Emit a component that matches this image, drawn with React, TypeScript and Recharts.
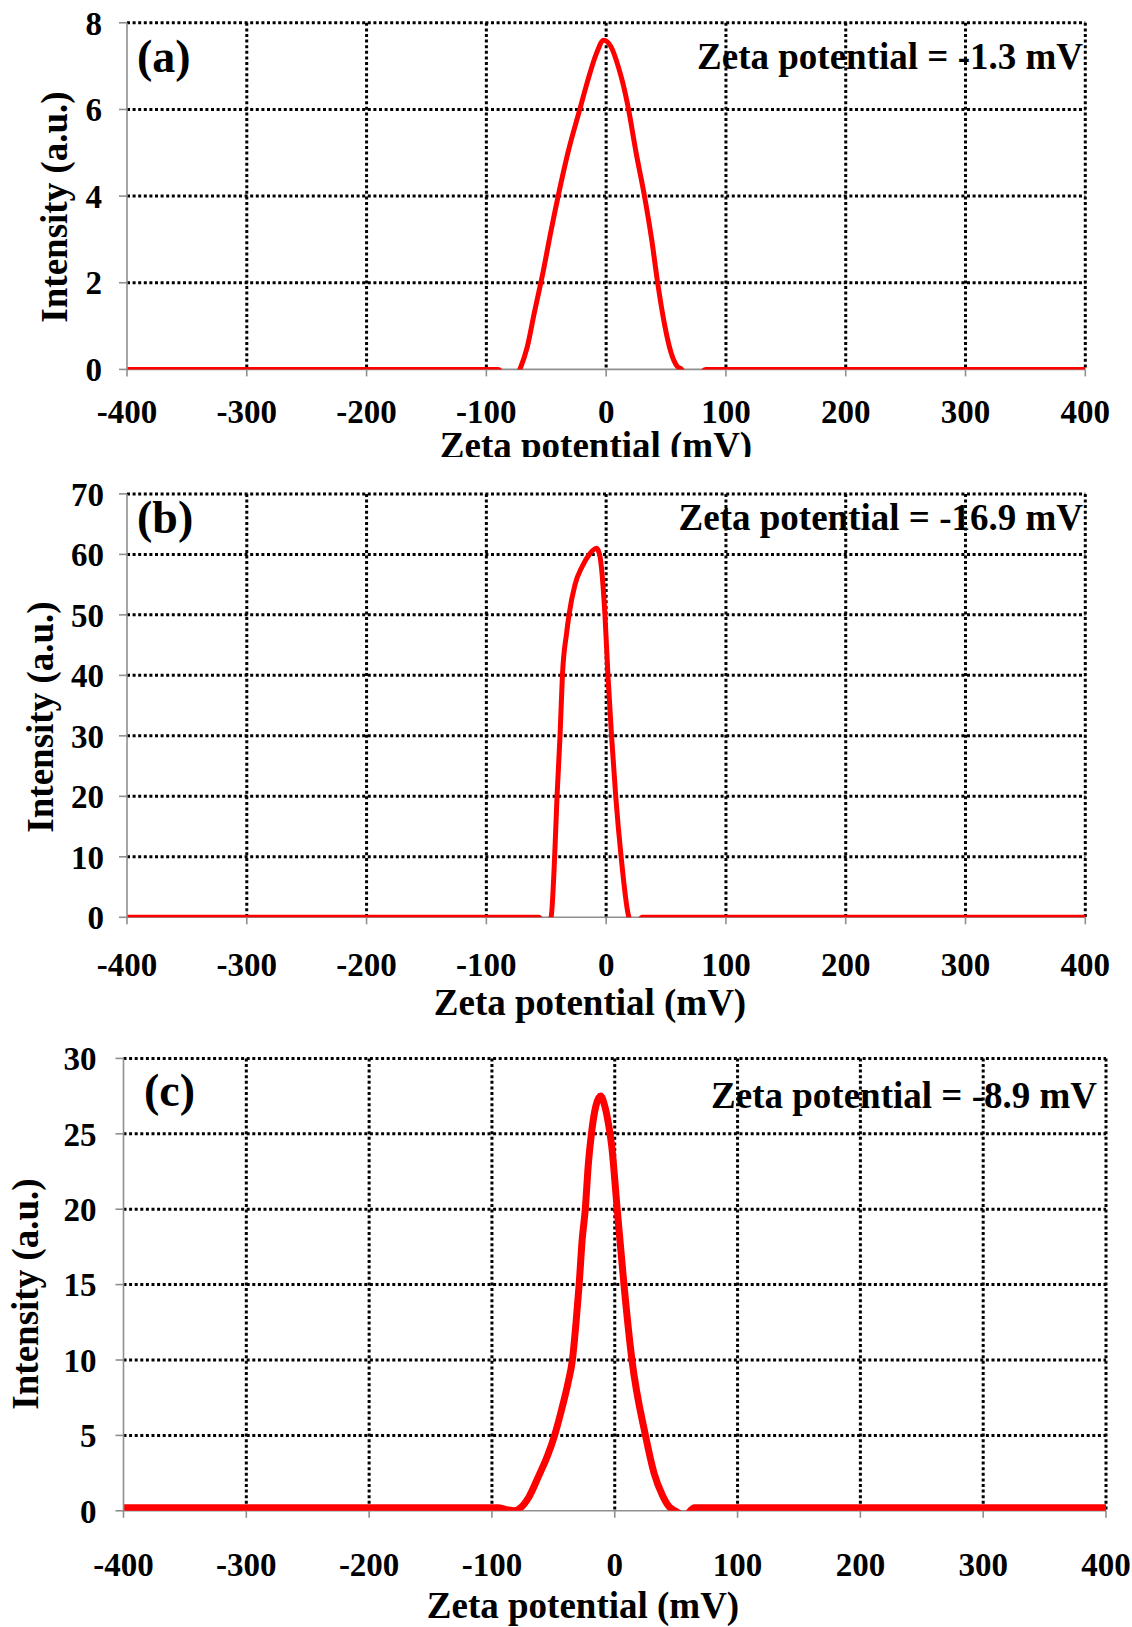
import { LineChart, Line, XAxis, YAxis, CartesianGrid } from "recharts";
import type { ReactNode } from "react";

// shared zeta-potential axis (mV)
const zetaTicks = [-400, -300, -200, -100, 0, 100, 200, 300, 400];

// (a) zeta potential distribution, mean -1.3 mV
const potentialA = [-400, -300, -200, -100, -90, -80, -72, -66, -60, -53, -46, -31, -22, -15, -8, -2, 4, 10, 14, 18, 25, 32, 38, 43, 49, 54, 59, 63, 72, 83, 100, 200, 300, 400];
const intensityA = [0, 0, 0, 0, 0, -0.4, 0, 0.5, 1.3, 2.2, 3.2, 5.1, 6, 6.7, 7.3, 7.6, 7.45, 7.0, 6.6, 6.1, 5, 4, 3, 2, 1, 0.4, 0.08, 0, -0.4, 0, 0, 0, 0, 0];
const yTicksA = [0, 2, 4, 6, 8];

// (b) mean -16.9 mV
const potentialB = [-400, -300, -200, -100, -56, -51, -46, -43, -41, -38.5, -36.5, -33, -31, -26, -20, -14, -8, -5.5, -1, 1.5, 4.5, 8, 12.5, 19, 24, 30, 100, 200, 300, 400];
const intensityB = [0, 0, 0, 0, 0, -1.5, 0, 10, 20, 30, 40, 47, 50, 55, 58, 60, 61, 60, 50, 40, 30, 20, 10, 0, -1.5, 0, 0, 0, 0, 0];
const yTicksB = [0, 10, 20, 30, 40, 50, 60, 70];

// (c) mean -8.9 mV
const potentialC = [-400, -300, -200, -100, -95, -88, -82, -76, -70, -62, -55, -49, -43, -38, -34.5, -31.5, -29, -26.5, -24, -21.5, -19, -15.5, -11.5, -8, -5, -2.5, 2, 7.5, 14, 25, 32, 39, 44, 49, 57, 65, 100, 200, 300, 400];
const intensityC = [0.2, 0.2, 0.2, 0.2, 0.2, 0.08, 0, 0.25, 0.9, 2.3, 3.6, 5, 6.8, 8.5, 10, 12.5, 15, 18, 20, 23, 25, 26.8, 27.5, 26.8, 25.6, 24.2, 20, 15, 10, 5, 2.5, 1, 0.3, 0, -0.3, 0.2, 0.2, 0.2, 0.2, 0.2];
const yTicksC = [0, 5, 10, 15, 20, 25, 30];

const FONT = '"Liberation Serif", "Times New Roman", Times, serif';
const AXIS_GRAY = "#8f8f8f";
const RED = "#ff0000";
const PAGE_W = 1132;
const PAGE_H = 1627;
const Y_AXIS_W = 70;
const X_AXIS_H = 60;

type Box = { left: number; right: number; top: number; bottom: number };
type Pt = [number, number];

interface PanelProps {
  tag: string;
  note: string;
  potential: number[];
  intensity: number[];
  yTicks: number[];
  top: number;
  height: number;
  plot: Box;
  lineWidth: number;
  xTickMargin: number;
  yTickMargin: number;
  tagAt: Pt;
  noteAt: Pt;
  yTitleAt: Pt;
  xTitleAt: Pt;
}

function Caption({
  at,
  size,
  anchor = "middle",
  rotate = false,
  children,
}: {
  at: Pt;
  size: number;
  anchor?: "start" | "middle" | "end";
  rotate?: boolean;
  children: ReactNode;
}) {
  const tx = anchor === "start" ? "0%" : anchor === "end" ? "-100%" : "-50%";
  return (
    <div
      style={{
        position: "absolute",
        left: at[0],
        top: at[1],
        fontSize: size,
        fontWeight: 700,
        lineHeight: 1,
        whiteSpace: "nowrap",
        color: "#000",
        transform: `translate(${tx}, -50%)${rotate ? " rotate(-90deg)" : ""}`,
      }}
    >
      {children}
    </div>
  );
}

function ZetaPanel(p: PanelProps) {
  const data = p.potential.map((x, i) => ({ potential: x, intensity: p.intensity[i] }));
  const yMax = p.yTicks[p.yTicks.length - 1];
  const local = (pt: Pt): Pt => [pt[0], pt[1] - p.top];

  const margin = {
    top: p.plot.top - p.top,
    left: p.plot.left - Y_AXIS_W,
    right: PAGE_W - p.plot.right,
    bottom: p.top + p.height - p.plot.bottom - X_AXIS_H,
  };
  const tickStyle = { fill: "#000", fontSize: 33, fontWeight: 700, fontFamily: FONT };

  return (
    <div
      style={{
        position: "absolute",
        left: 0,
        top: p.top,
        width: PAGE_W,
        height: p.height,
        overflow: "hidden",
      }}
    >
      <LineChart width={PAGE_W} height={p.height} data={data} margin={margin}>
        {/* dotted grid; the zero line and left edge belong to the axes */}
        <CartesianGrid
          stroke="#000"
          strokeWidth={3}
          strokeDasharray="3 2.6"
          horizontalValues={p.yTicks.filter((v) => v !== 0)}
          verticalValues={zetaTicks.filter((v) => v !== -400)}
        />
        <CartesianGrid stroke={AXIS_GRAY} strokeWidth={1.6} horizontalValues={[0]} vertical={false} />
        <XAxis
          dataKey="potential"
          type="number"
          domain={[-400, 400]}
          ticks={zetaTicks}
          interval={0}
          axisLine={false}
          tickLine={{ stroke: AXIS_GRAY, strokeWidth: 1.6 }}
          tickSize={7}
          tickMargin={p.xTickMargin}
          height={X_AXIS_H}
          tick={tickStyle}
        />
        <YAxis
          type="number"
          domain={[0, yMax]}
          ticks={p.yTicks}
          interval={0}
          allowDataOverflow
          axisLine={{ stroke: AXIS_GRAY, strokeWidth: 1.6 }}
          tickLine={{ stroke: AXIS_GRAY, strokeWidth: 1.6 }}
          tickSize={8}
          tickMargin={p.yTickMargin}
          width={Y_AXIS_W}
          tick={tickStyle}
        />
        <Line
          dataKey="intensity"
          type="monotone"
          stroke={RED}
          strokeWidth={p.lineWidth}
          dot={false}
          activeDot={false}
          isAnimationActive={false}
        />
      </LineChart>
      <Caption at={local(p.tagAt)} size={46} anchor="start">
        {p.tag}
      </Caption>
      <Caption at={local(p.noteAt)} size={37} anchor="end">
        {p.note}
      </Caption>
      <Caption at={local(p.yTitleAt)} size={37} rotate>
        Intensity (a.u.)
      </Caption>
      <Caption at={local(p.xTitleAt)} size={37}>
        Zeta potential (mV)
      </Caption>
    </div>
  );
}

export default function App() {
  return (
    <div
      style={{
        position: "relative",
        width: PAGE_W,
        height: PAGE_H,
        background: "#fff",
        fontFamily: FONT,
      }}
    >
      <style>{"body{margin:0}"}</style>
      <ZetaPanel
        tag="(a)"
        note="Zeta potential = -1.3 mV"
        potential={potentialA}
        intensity={intensityA}
        yTicks={yTicksA}
        top={0}
        height={457}
        plot={{ left: 127, right: 1085.3, top: 22.8, bottom: 369.4 }}
        lineWidth={5}
        xTickMargin={23.5}
        yTickMargin={17}
        tagAt={[137, 57]}
        noteAt={[1083, 56]}
        yTitleAt={[54, 206.5]}
        xTitleAt={[596, 445]}
      />
      <ZetaPanel
        tag="(b)"
        note="Zeta potential = -16.9 mV"
        potential={potentialB}
        intensity={intensityB}
        yTicks={yTicksB}
        top={457}
        height={582}
        plot={{ left: 127, right: 1085.3, top: 493.9, bottom: 917.3 }}
        lineWidth={5}
        xTickMargin={28.5}
        yTickMargin={15}
        tagAt={[137, 518]}
        noteAt={[1083, 517]}
        yTitleAt={[40, 716.5]}
        xTitleAt={[590, 1002]}
      />
      <ZetaPanel
        tag="(c)"
        note="Zeta potential = -8.9 mV"
        potential={potentialC}
        intensity={intensityC}
        yTicks={yTicksC}
        top={1039}
        height={588}
        plot={{ left: 123.5, right: 1106, top: 1058.4, bottom: 1510.8 }}
        lineWidth={7}
        xTickMargin={35}
        yTickMargin={19}
        tagAt={[144, 1091]}
        noteAt={[1097, 1095]}
        yTitleAt={[25, 1294.4]}
        xTitleAt={[583, 1605]}
      />
    </div>
  );
}
